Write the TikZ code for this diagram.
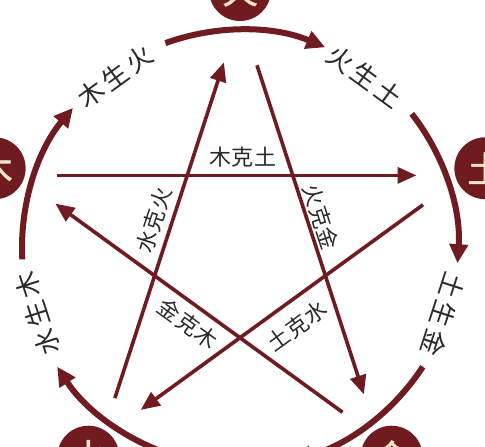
\documentclass[tikz,border=0pt]{standalone}
\usepackage{fontspec}
\newfontfamily\cjk{Noto Sans CJK SC}
\newfontfamily\cjkb[FakeBold=1.5]{Noto Sans CJK SC}
\usetikzlibrary{arrows.meta,calc}
\definecolor{wred}{HTML}{6F1B20}
\definecolor{wtxt}{HTML}{2A2A2A}
\definecolor{wcream}{HTML}{F4E4C4}
\begin{document}
\begin{tikzpicture}[x=1pt,y=1pt,
  arcline/.style={line width=6pt, color=wred, -{Triangle[length=19pt,width=18pt]}},
  starline/.style={line width=3.6pt, color=wred, -{Triangle[length=19pt,width=16pt]}},
  elem/.style={circle, fill=wred, minimum size=62pt, inner sep=0pt, text=wcream, font=\cjkb\fontsize{36}{36}\selectfont},
  arclabel/.style={text=wtxt, font=\cjk\fontsize{26}{26}\selectfont, inner sep=0pt},
  kelabel/.style={text=wtxt, font=\cjk\fontsize{22}{22}\selectfont, inner sep=0pt}]
\useasboundingbox (0,0) rectangle (485,447);
\fill[white] (0,0) rectangle (485,447);
\begin{scope}
\clip (0,0) rectangle (485,447);
\coordinate (C) at (240,199);
% star vertices
\coordinate (vHuo) at ($(C)+(90:235)$);
\coordinate (vTu) at ($(C)+(18:235)$);
\coordinate (vJin) at ($(C)+(-54:235)$);
\coordinate (vShui) at ($(C)+(-126:235)$);
\coordinate (vMu) at ($(C)+(162:235)$);
% ke cycle (star)
\draw[starline] ($(vMu)!40pt!(vTu)$) -- ($(vTu)!47pt!(vMu)$);
\draw[starline] ($(vTu)!50pt!(vShui)$) -- ($(vShui)!48pt!(vTu)$);
\draw[starline] ($(vShui)!42pt!(vHuo)$) -- ($(vHuo)!52pt!(vShui)$);
\draw[starline] ($(vHuo)!55pt!(vJin)$) -- ($(vJin)!46pt!(vHuo)$);
\draw[starline] ($(vJin)!44pt!(vMu)$) -- ($(vMu)!48pt!(vJin)$);
% sheng cycle (circle arcs)
\coordinate (a1) at ($(C)+(110:218)$);
\coordinate (a2) at ($(C)+(38:218)$);
\coordinate (a3) at ($(C)+(-33:218)$);
\coordinate (a4) at ($(C)+(-105:218)$);
\coordinate (a5) at ($(C)+(183:218)$);
\draw[arcline] (a1) arc[start angle=110,end angle=67,radius=218pt];
\draw[arcline] (a2) arc[start angle=38,end angle=-4,radius=218pt];
\draw[arcline] (a3) arc[start angle=-33,end angle=-76,radius=218pt];
\draw[arcline] (a4) arc[start angle=-105,end angle=-147,radius=218pt];
\draw[arcline] (a5) arc[start angle=183,end angle=140,radius=218pt];
% sheng labels
\node[arclabel, rotate=36] (lMuHuo) at ($(C)+(126:212)$) {木\hspace{4pt}生\hspace{4pt}火};
\node[arclabel, rotate=-36] (lHuoTu) at ($(C)+(54:212)$) {火\hspace{4pt}生\hspace{4pt}土};
\node[arclabel, rotate=-108] (lTuJin) at ($(C)+(-18:214)$) {土\hspace{4pt}生\hspace{4pt}金};
\node[arclabel, rotate=108] (lShuiMu) at ($(C)+(198:213)$) {水\hspace{4pt}生\hspace{4pt}木};
% ke labels
\node[kelabel] (kMuTu) at (243,290) {木\hspace{1pt}克\hspace{1pt}土};
\node[kelabel, rotate=72] (kShuiHuo) at (154,227) {水\hspace{1pt}克\hspace{1pt}火};
\node[kelabel, rotate=-72] (kHuoJin) at (321,230) {火\hspace{1pt}克\hspace{1pt}金};
\node[kelabel, rotate=-36] (kJinMu) at (188,123) {金\hspace{1pt}克\hspace{1pt}木};
\node[kelabel, rotate=36] (kTuShui) at (297,121) {土\hspace{1pt}克\hspace{1pt}水};
% element circles
\node[elem] (Huo) at ($(C)+(90:258)$) {火};
\node[elem] (Tu) at ($(C)+(18:258)$) {土};
\node[elem] (Jin) at ($(C)+(-54:258)$) {金};
\node[elem] (Shui) at ($(C)+(-126:258)$) {水};
\node[elem] (Mu) at ($(C)+(162:258)$) {木};
\end{scope}
\end{tikzpicture}
\end{document}
